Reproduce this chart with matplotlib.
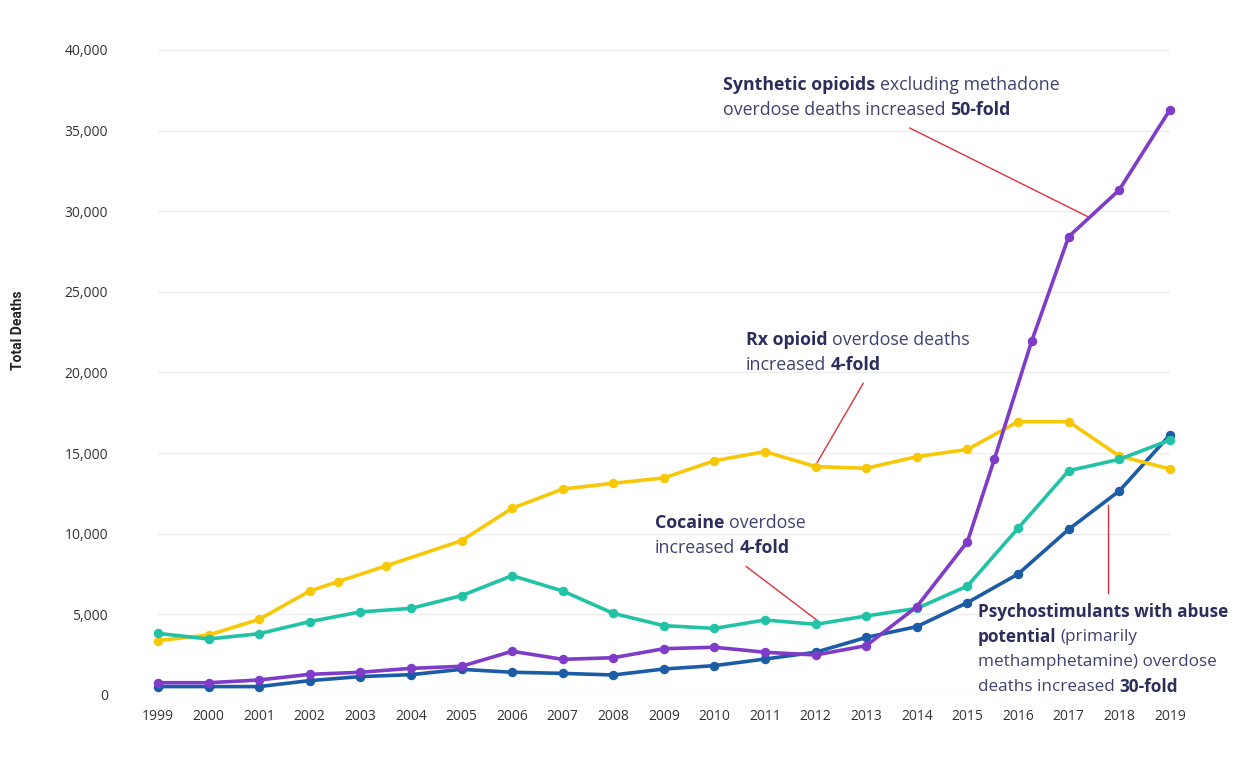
import matplotlib.pyplot as plt
from matplotlib.transforms import offset_copy

# ── Data ────────────────────────────────────────────────────────────────────

years = list(range(1999, 2020))

rx_years = [1999, 2000, 2001, 2002, 2002.56, 2003.5, 2005, 2006, 2007, 2008,
            2009, 2010, 2011, 2012, 2013, 2014, 2015, 2016, 2017, 2018, 2019]
rx_deaths = [3370, 3720, 4690, 6450, 7030, 8000, 9570, 11580, 12770, 13130,
             13460, 14530, 15090, 14160, 14060, 14780, 15230, 16950, 16950,
             14820, 14020]

cocaine_deaths = [3820, 3470, 3800, 4550, 5150, 5370, 6160, 7400, 6450, 5060,
                  4300, 4130, 4650, 4380, 4900, 5370, 6760, 10340, 13910,
                  14610, 15810]

psycho_deaths = [520, 520, 520, 890, 1140, 1260, 1590, 1410, 1340, 1240,
                 1610, 1820, 2230, 2650, 3570, 4240, 5730, 7500, 10270,
                 12650, 16120]

synth_years = list(range(1999, 2016)) + [2015.53, 2016.27, 2017, 2018, 2019]
synth_deaths = [760, 760, 930, 1280, 1410, 1650, 1780, 2710, 2210, 2310,
                2870, 2960, 2650, 2480, 3060, 5480, 9510, 14610, 21950,
                28420, 31320, 36280]

y_ticks = list(range(0, 40001, 5000))

# ── Style ───────────────────────────────────────────────────────────────────

YELLOW = "#F7C808"
TEAL = "#22C2A6"
BLUE = "#1C5BA6"
PURPLE = "#7F3CC8"
RED = "#E0303F"
NAVY = "#2C2D5B"
NAVY_LIGHT = "#3F4170"
FONT = "Open Sans"

plt.rcParams["font.family"] = [FONT, "DejaVu Sans"]

fig = plt.figure(figsize=(12.34, 7.71), dpi=100)
ax = fig.add_axes([0.128, 0.0986, 0.820, 0.8366])

line_kw = dict(linewidth=2.6, marker="o", markersize=5.8, clip_on=False)
ax.plot(years, psycho_deaths, color=BLUE, zorder=3, **line_kw)
ax.plot(years, cocaine_deaths, color=TEAL, zorder=4, **line_kw)
ax.plot(rx_years, rx_deaths, color=YELLOW, zorder=3, **line_kw)
ax.plot(synth_years, synth_deaths, color=PURPLE, zorder=5, **line_kw)

ax.set_xlim(1999, 2019)
ax.set_ylim(0, 40000)
ax.set_xticks(years)
ax.set_yticks(y_ticks)
ax.set_yticklabels([f"{v:,}" for v in y_ticks])
ax.tick_params(axis="both", length=0, labelsize=10, labelcolor="#333333")
ax.tick_params(axis="y", pad=36)
ax.tick_params(axis="x", pad=10)
for spine in ax.spines.values():
    spine.set_visible(False)
ax.grid(axis="y", color="#EDEDED", linewidth=1)
ax.set_axisbelow(True)

fig.text(18 / 1234, 1 - 330 / 771, "Total Deaths", rotation=90, ha="center",
         va="center", fontsize=10, fontweight="bold", color="#222222",
         family="Roboto")


# ── Mixed-weight annotations ────────────────────────────────────────────────

renderer = fig.canvas.get_renderer()


def text_width(s, weight, size):
    t = fig.text(0, 0, s, fontsize=size, fontweight=weight)
    w = t.get_window_extent(renderer).width
    t.remove()
    return w


def rich_line(x, y, pieces, size):
    """Draw (text, weight) pieces one after the other on a single line."""
    space = text_width("a a", "normal", size) - text_width("aa", "normal", size)
    offset = 0.0
    for i, (s, weight) in enumerate(pieces):
        if i > 0:
            offset += space
        tr = offset_copy(ax.transData, fig=fig, x=offset, y=0, units="dots")
        color = NAVY if weight == "bold" else NAVY_LIGHT
        t = ax.text(x, y, s, transform=tr, fontsize=size, fontweight=weight,
                    color=color, ha="left", va="center", zorder=6)
        offset += t.get_window_extent(renderer).width


def rich_block(x, y_lines, lines, size=12.8):
    for y, pieces in zip(y_lines, lines):
        rich_line(x, y, pieces, size)


rich_block(2010.17, [37830, 36280], [
    [("Synthetic opioids", "bold"), ("excluding methadone", "normal")],
    [("overdose deaths increased", "normal"), ("50-fold", "bold")],
])
ax.plot([2013.86, 2017.38], [35160, 29660], color=RED, lw=1, zorder=2,
        clip_on=False)

rich_block(2010.62, [22020, 20470], [
    [("Rx opioid", "bold"), ("overdose deaths", "normal")],
    [("increased", "normal"), ("4-fold", "bold")],
])
ax.plot([2012.94, 2012.0], [19330, 14260], color=RED, lw=1, zorder=2)

rich_block(2008.82, [10670, 9120], [
    [("Cocaine", "bold"), ("overdose", "normal")],
    [("increased", "normal"), ("4-fold", "bold")],
])
ax.plot([2010.63, 2012.02], [7960, 4650], color=RED, lw=1, zorder=2)

rich_block(2015.2, [5150, 3600, 2050, 500], [
    [("Psychostimulants with abuse", "bold")],
    [("potential", "bold"), ("(primarily", "normal")],
    [("methamphetamine) overdose", "normal")],
    [("deaths increased", "normal"), ("30-fold", "bold")],
], size=12.3)
ax.plot([2017.77, 2017.77], [11780, 6310], color=RED, lw=1, zorder=2)

fig.savefig("out.png", dpi=100)
